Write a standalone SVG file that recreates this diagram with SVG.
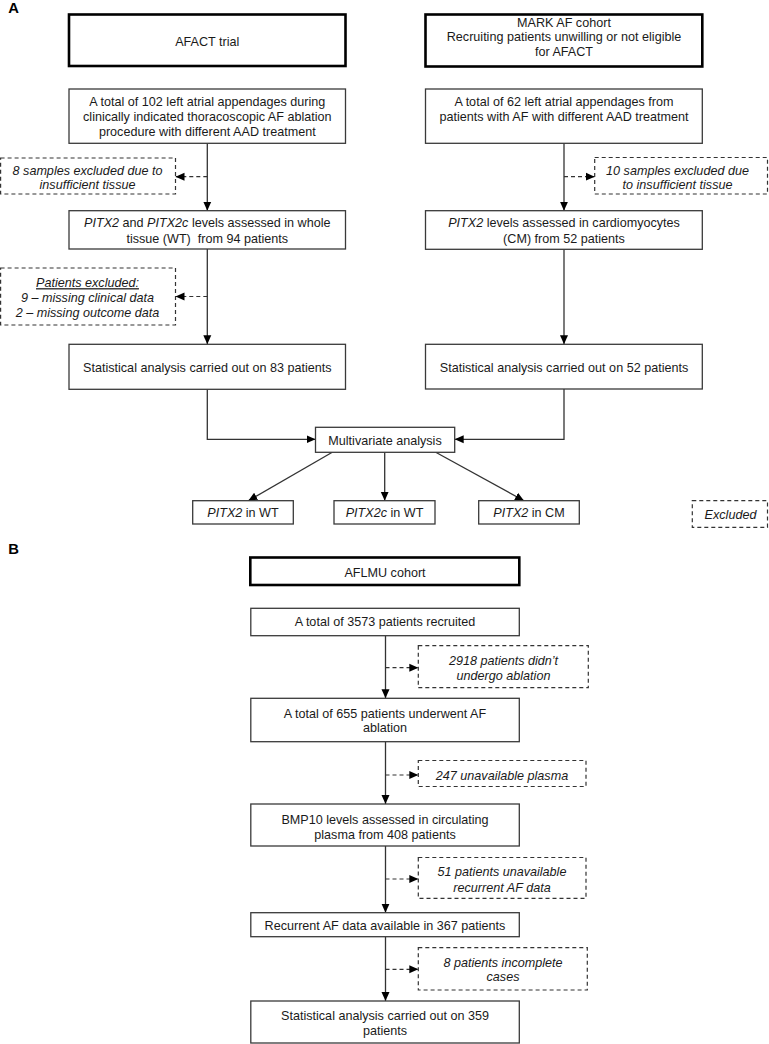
<svg xmlns="http://www.w3.org/2000/svg" width="769" height="1044" viewBox="0 0 769 1044">
<defs>
<marker id="ah" markerUnits="userSpaceOnUse" markerWidth="10" markerHeight="10" viewBox="0 0 10 10" refX="9" refY="5" orient="auto">
<path d="M0,1 L9,5 L0,9 Z" fill="#000"/>
</marker>
<style>
text{font-family:"Liberation Sans",Arial,sans-serif;font-size:12.6px;fill:#1a1a1a;text-anchor:middle}
.lbl{font-weight:bold;font-size:14.8px;text-anchor:start;fill:#000}
.it{font-style:italic}
.box{fill:#fff;stroke:#3a3a3a;stroke-width:1.3}
.thick{fill:#fff;stroke:#000;stroke-width:2.6}
.dash{fill:#fff;stroke:#333;stroke-width:1.2;stroke-dasharray:4 3}
.ln{fill:none;stroke:#333;stroke-width:1.3;marker-end:url(#ah)}
.dl{fill:none;stroke:#333;stroke-width:1.2;stroke-dasharray:4 3;marker-end:url(#ah)}
</style>
</defs>
<rect width="769" height="1044" fill="#fff"/>
<text class="lbl" x="8.3" y="13.3">A</text>
<text class="lbl" x="8.3" y="554">B</text>

<g id="connectors">
<line class="ln" x1="207.3" y1="143.3" x2="207.3" y2="210.7"/>
<line class="dl" x1="207.3" y1="176.7" x2="175.5" y2="176.7"/>
<line class="ln" x1="207.3" y1="249" x2="207.3" y2="344.3"/>
<line class="dl" x1="207.3" y1="296.5" x2="175.5" y2="296.5"/>
<polyline class="ln" points="207.3,389.3 207.3,439.3 315.5,439.3"/>
<line class="ln" x1="564" y1="143.3" x2="564" y2="210.7"/>
<line class="dl" x1="564" y1="176.7" x2="594.7" y2="176.7"/>
<line class="ln" x1="564" y1="249.3" x2="564" y2="344.3"/>
<polyline class="ln" points="564,389 564,439.3 454.7,439.3"/>
<line class="ln" x1="332.3" y1="452.3" x2="248.3" y2="500.7"/>
<line class="ln" x1="384.7" y1="452.3" x2="384.7" y2="500.7"/>
<line class="ln" x1="435.7" y1="452.3" x2="524" y2="500.7"/>
<line class="ln" x1="385.5" y1="635.7" x2="385.5" y2="698.3"/>
<line class="dl" x1="385.5" y1="667.7" x2="418.3" y2="667.7"/>
<line class="ln" x1="385.5" y1="741.7" x2="385.5" y2="804"/>
<line class="dl" x1="385.5" y1="775" x2="418.3" y2="775"/>
<line class="ln" x1="385.5" y1="846" x2="385.5" y2="912.7"/>
<line class="dl" x1="385.5" y1="879" x2="418.3" y2="879"/>
<line class="ln" x1="385.5" y1="936.7" x2="385.5" y2="1001"/>
<line class="dl" x1="385.5" y1="969.3" x2="418.3" y2="969.3"/>
</g>

<g id="afact">
<rect class="thick" x="69" y="14.5" width="276.5" height="51.5"/>
<text x="207.3" y="46.2">AFACT trial</text>
</g>
<g id="markaf">
<rect class="thick" x="425.5" y="14.5" width="276.8" height="52"/>
<text x="564" y="26.5">MARK AF cohort</text>
<text x="564" y="41">Recruiting patients unwilling or not eligible</text>
<text x="564" y="55.5">for AFACT</text>
</g>
<g id="afact-total">
<rect class="box" x="69" y="89" width="276.5" height="54.3"/>
<text x="207.3" y="106.2">A total of 102 left atrial appendages during</text>
<text x="207.3" y="121.2">clinically indicated thoracoscopic AF ablation</text>
<text x="207.3" y="136.2">procedure with different AAD treatment</text>
</g>
<g id="mark-total">
<rect class="box" x="425.5" y="89" width="276.8" height="54.3"/>
<text x="564" y="105.5">A total of 62 left atrial appendages from</text>
<text x="564" y="120.5">patients with AF with different AAD treatment</text>
</g>
<g id="excl-left-1">
<rect class="dash" x="0.6" y="158" width="174.9" height="36"/>
<text class="it" x="87.5" y="174.5">8 samples excluded due to</text>
<text class="it" x="87.5" y="188.8">insufficient tissue</text>
</g>
<g id="excl-right-1">
<rect class="dash" x="594.7" y="157.5" width="172.8" height="36.5"/>
<text class="it" x="677.5" y="174.5">10 samples excluded due</text>
<text class="it" x="677.5" y="188.8">to insufficient tissue</text>
</g>
<g id="wt-levels">
<rect class="box" x="69" y="210.7" width="276.5" height="38.3"/>
<text x="207.3" y="227.2"><tspan class="it">PITX2</tspan> and <tspan class="it">PITX2c</tspan> levels assessed in whole</text>
<text x="207.3" y="242.8">tissue (WT)&#160; from 94 patients</text>
</g>
<g id="cm-levels">
<rect class="box" x="425.5" y="210.7" width="276.8" height="38.6"/>
<text x="564" y="227.2"><tspan class="it">PITX2</tspan> levels assessed in cardiomyocytes</text>
<text x="564" y="242.8">(CM) from 52 patients</text>
</g>
<g id="excl-left-2">
<rect class="dash" x="0.6" y="268" width="174.9" height="57"/>
<text class="it" x="87.5" y="287.2" text-decoration="underline">Patients excluded:</text>
<text class="it" x="87.5" y="301.8">9 – missing clinical data</text>
<text class="it" x="87.5" y="317.2">2 – missing outcome data</text>
</g>
<g id="stat-83">
<rect class="box" x="69" y="344.3" width="276.5" height="45"/>
<text x="207.3" y="371.8">Statistical analysis carried out on 83 patients</text>
</g>
<g id="stat-52">
<rect class="box" x="425.5" y="344.3" width="276.8" height="44.7"/>
<text x="564" y="371.8">Statistical analysis carried out on 52 patients</text>
</g>
<g id="multivariate">
<rect class="box" x="315.5" y="427.3" width="139.2" height="25"/>
<text x="385" y="445">Multivariate analysis</text>
</g>
<g id="pitx2-wt">
<rect class="box" x="192.7" y="500.7" width="100.6" height="23.3"/>
<text x="243" y="517.2"><tspan class="it">PITX2</tspan> in WT</text>
</g>
<g id="pitx2c-wt">
<rect class="box" x="334" y="500.7" width="101" height="23.3"/>
<text x="384.5" y="517.2"><tspan class="it">PITX2c</tspan> in WT</text>
</g>
<g id="pitx2-cm">
<rect class="box" x="478.7" y="500.7" width="100.6" height="23.3"/>
<text x="529" y="517.2"><tspan class="it">PITX2</tspan> in CM</text>
</g>
<g id="legend-excluded">
<rect class="dash" x="692.3" y="500.7" width="75.2" height="26.6"/>
<text class="it" x="730.5" y="518.5">Excluded</text>
</g>

<g id="aflmu">
<rect class="thick" x="250.3" y="557.5" width="269" height="27.5"/>
<text x="385" y="576.8">AFLMU cohort</text>
</g>
<g id="b-3573">
<rect class="box" x="250.8" y="608.3" width="268.5" height="27.4"/>
<text x="385" y="626.2">A total of 3573 patients recruited</text>
</g>
<g id="b-excl-2918">
<rect class="dash" x="418.3" y="645.7" width="170" height="42"/>
<text class="it" x="503.5" y="664.5">2918 patients didn’t</text>
<text class="it" x="503.5" y="679.5">undergo ablation</text>
</g>
<g id="b-655">
<rect class="box" x="250.8" y="698.3" width="268.5" height="43.4"/>
<text x="385" y="717.8">A total of 655 patients underwent AF</text>
<text x="385" y="732.2">ablation</text>
</g>
<g id="b-excl-247">
<rect class="dash" x="418.3" y="760.5" width="167.7" height="26"/>
<text class="it" x="502" y="779.5">247 unavailable plasma</text>
</g>
<g id="b-bmp10">
<rect class="box" x="250.8" y="804" width="268.5" height="42"/>
<text x="385" y="823.5">BMP10 levels assessed in circulating</text>
<text x="385" y="838.5">plasma from 408 patients</text>
</g>
<g id="b-excl-51">
<rect class="dash" x="418.3" y="857.5" width="167.7" height="40.8"/>
<text class="it" x="502" y="876.2">51 patients unavailable</text>
<text class="it" x="502" y="891.8">recurrent AF data</text>
</g>
<g id="b-367">
<rect class="box" x="250.8" y="912.7" width="268.5" height="24"/>
<text x="385" y="929.5">Recurrent AF data available in 367 patients</text>
</g>
<g id="b-excl-8">
<rect class="dash" x="418.3" y="947.7" width="169" height="42.3"/>
<text class="it" x="503" y="966.5">8 patients incomplete</text>
<text class="it" x="503" y="981.2">cases</text>
</g>
<g id="b-359">
<rect class="box" x="250.8" y="1001" width="268.5" height="42"/>
<text x="385" y="1019.5">Statistical analysis carried out on 359</text>
<text x="385" y="1034.5">patients</text>
</g>
</svg>
